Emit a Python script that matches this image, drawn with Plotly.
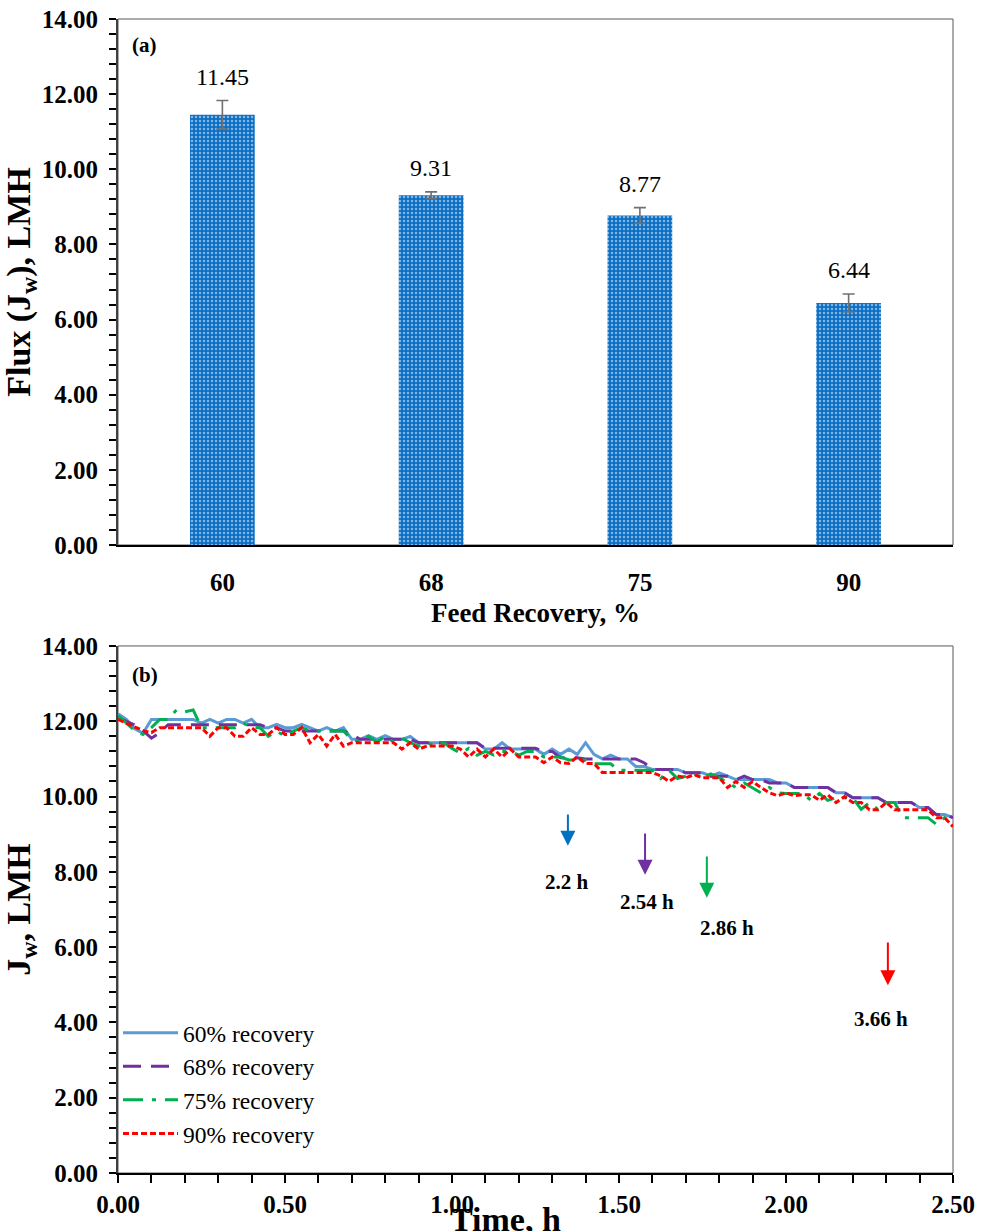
import plotly.graph_objects as go

# ---------------- data: panel (a) ----------------
recovery = ["60", "68", "75", "90"]
flux_mean = [11.45, 9.31, 8.77, 6.44]
flux_err = [0.38, 0.09, 0.21, 0.24]

# ---------------- data: panel (b) ----------------
time_h = [round(0.025 * i, 3) for i in range(101)]

jw_60 = [12.20, 12.05, 11.80, 11.68, 12.05, 12.05, 12.05, 12.05, 12.05, 12.05,
         11.95, 12.05, 11.95, 12.05, 12.05, 11.95, 12.05, 11.83, 11.83, 11.92,
         11.83, 11.83, 11.92, 11.83, 11.74, 11.83, 11.74, 11.83, 11.52, 11.52,
         11.62, 11.52, 11.62, 11.52, 11.52, 11.60, 11.43, 11.43, 11.43, 11.43,
         11.43, 11.43, 11.43, 11.43, 11.26, 11.26, 11.43, 11.26, 11.26, 11.26,
         11.26, 11.12, 11.26, 11.12, 11.26, 11.12, 11.43, 11.12, 11.00, 11.10,
         11.00, 11.00, 10.80, 10.80, 10.72, 10.72, 10.72, 10.72, 10.63, 10.63,
         10.63, 10.54, 10.63, 10.54, 10.45, 10.45, 10.45, 10.45, 10.45, 10.36,
         10.36, 10.24, 10.24, 10.24, 10.24, 10.24, 10.10, 10.10, 9.97, 9.97,
         9.97, 9.97, 9.84, 9.84, 9.84, 9.84, 9.71, 9.71, 9.52, 9.52,
         9.44]

jw_68 = [12.10, 12.00, 11.90, 11.75, 11.55, 11.70, 11.91, 11.91, 11.91, 11.91,
         11.91, 11.91, 11.91, 11.91, 11.91, 11.91, 11.91, 11.91, 11.83, 11.83,
         11.74, 11.74, 11.74, 11.74, 11.74, 11.74, 11.74, 11.74, 11.65, 11.52,
         11.52, 11.52, 11.52, 11.52, 11.52, 11.52, 11.43, 11.43, 11.43, 11.43,
         11.43, 11.43, 11.43, 11.43, 11.28, 11.28, 11.28, 11.28, 11.28, 11.28,
         11.28, 11.20, 11.20, 11.03, 11.03, 11.03, 11.00, 11.00, 11.00, 11.00,
         11.00, 11.00, 11.00, 10.90, 10.72, 10.72, 10.72, 10.72, 10.63, 10.63,
         10.63, 10.54, 10.54, 10.54, 10.45, 10.54, 10.45, 10.45, 10.36, 10.36,
         10.36, 10.24, 10.24, 10.24, 10.24, 10.24, 10.10, 10.10, 9.97, 9.97,
         9.97, 9.97, 9.84, 9.84, 9.84, 9.84, 9.71, 9.71, 9.52, 9.52,
         9.44]

jw_75 = [12.15, 11.95, 11.75, 11.65, 11.83, 12.05, 12.05, 12.30, 12.25, 12.30,
         11.83, 11.83, 11.83, 11.83, 11.83, 11.95, 11.83, 11.83, 11.60, 11.74,
         11.60, 11.74, 11.83, 11.74, 11.74, 11.74, 11.74, 11.74, 11.52, 11.45,
         11.60, 11.45, 11.60, 11.45, 11.55, 11.43, 11.34, 11.43, 11.34, 11.43,
         11.28, 11.15, 11.28, 11.10, 11.20, 11.10, 11.20, 11.20, 11.10, 11.20,
         11.20, 11.05, 11.05, 11.05, 10.97, 10.97, 10.97, 10.87, 10.87, 10.87,
         10.70, 10.70, 10.70, 10.70, 10.70, 10.48, 10.70, 10.48, 10.55, 10.60,
         10.50, 10.60, 10.50, 10.36, 10.24, 10.36, 10.24, 10.10, 10.24, 10.10,
         10.08, 10.08, 10.08, 9.90, 10.08, 9.90, 9.97, 9.97, 9.97, 9.66,
         9.84, 9.66, 9.84, 9.84, 9.44, 9.44, 9.44, 9.44, 9.26, 9.44,
         9.30]

jw_90 = [12.05, 11.95, 11.85, 11.75, 11.70, 11.83, 11.83, 11.83, 11.83, 11.83,
         11.83, 11.60, 11.83, 11.83, 11.60, 11.60, 11.83, 11.65, 11.65, 11.83,
         11.65, 11.65, 11.83, 11.43, 11.65, 11.34, 11.65, 11.34, 11.43, 11.43,
         11.43, 11.43, 11.43, 11.43, 11.26, 11.43, 11.26, 11.34, 11.34, 11.34,
         11.34, 11.26, 11.05, 11.26, 11.05, 11.26, 11.05, 11.26, 11.05, 11.05,
         11.05, 10.90, 11.05, 10.90, 10.88, 11.05, 10.88, 10.88, 10.64, 10.64,
         10.64, 10.64, 10.64, 10.64, 10.64, 10.55, 10.40, 10.55, 10.50, 10.58,
         10.50, 10.50, 10.50, 10.24, 10.40, 10.24, 10.40, 10.24, 10.10, 10.02,
         10.10, 10.02, 10.05, 10.05, 9.90, 10.05, 9.84, 10.00, 9.84, 9.84,
         9.65, 9.65, 9.84, 9.65, 9.65, 9.65, 9.65, 9.65, 9.44, 9.44,
         9.20]

series_names = ["60% recovery", "68% recovery", "75% recovery", "90% recovery"]
series_values = [jw_60, jw_68, jw_75, jw_90]
series_colors = ["#5B9BD5", "#7030A0", "#00B050", "#FF0000"]
series_dash = ["solid", "18px,10px", "20px,9px,4px,9px", "6px,3px"]

# time-to-target annotations
marker_times = ["2.2 h", "2.54 h", "2.86 h", "3.66 h"]
marker_colors = ["#0070C0", "#7030A0", "#00B050", "#FF0000"]
arrow_x = [1.347, 1.578, 1.763, 2.305]
arrow_tail_y = [9.56, 9.06, 8.45, 6.16]
arrow_head_y = [8.69, 7.92, 7.31, 4.99]
label_x = [1.344, 1.585, 1.823, 2.283]
label_y = [7.74, 7.21, 6.50, 4.09]

FONT = "Times New Roman, Liberation Serif, serif"

fig = go.Figure()

# ---- panel (a) bars ----
cat_idx = list(range(len(recovery)))
fig.add_trace(go.Bar(
    x=cat_idx, y=flux_mean,
    marker=dict(color="#0A6EC4", line=dict(width=0),
                pattern=dict(shape=".", fgcolor="white", size=4, solidity=0.3)),
    error_y=dict(type="data", array=flux_err, color="#707070", thickness=1.6, width=6),
    xaxis="x", yaxis="y", showlegend=False, hoverinfo="skip",
))

for xc, v, e in zip(cat_idx, flux_mean, flux_err):
    fig.add_annotation(x=xc, y=v + e, xref="x", yref="y", text=f"{v:.2f}",
                       showarrow=False, yanchor="bottom", xanchor="center", yshift=9,
                       font=dict(family=FONT, size=24, color="black"))

# ---- panel (b) lines ----
for name, vals, col, dash in zip(series_names, series_values, series_colors, series_dash):
    fig.add_trace(go.Scatter(
        x=time_h, y=vals, mode="lines", name=name,
        line=dict(color=col, width=3, dash=dash),
        xaxis="x2", yaxis="y2", hoverinfo="skip",
    ))

for xa, yt, yh, col in zip(arrow_x, arrow_tail_y, arrow_head_y, marker_colors):
    fig.add_annotation(x=xa, y=yh, ax=xa, ay=yt, xref="x2", yref="y2",
                       axref="x2", ayref="y2", text="", showarrow=True,
                       arrowhead=2, arrowsize=1.5, arrowwidth=2, arrowcolor=col)

for txt, lx, ly in zip(marker_times, label_x, label_y):
    fig.add_annotation(x=lx, y=ly, xref="x2", yref="y2", text=f"<b>{txt}</b>",
                       showarrow=False, font=dict(family=FONT, size=21, color="black"))

# panel letters
fig.add_annotation(x=0.032, y=0.95, xref="x domain", yref="y domain", text="<b>(a)</b>",
                   xanchor="center", yanchor="middle",
                   showarrow=False, font=dict(family=FONT, size=21, color="black"))
fig.add_annotation(x=0.032, y=0.945, xref="x2 domain", yref="y2 domain", text="<b>(b)</b>",
                   xanchor="center", yanchor="middle",
                   showarrow=False, font=dict(family=FONT, size=21, color="black"))

# x title of panel (b), slightly left of centre as in the original
fig.add_annotation(x=0.4635, y=-0.0405, xref="paper", yref="paper", text="<b>Time, h</b>",
                   xanchor="center", yanchor="middle", showarrow=False,
                   font=dict(family=FONT, size=34, color="black"))

# plot-area frames (light top/right border)
for xd, yd in (("x", "y"), ("x2", "y2")):
    fig.add_shape(type="rect", xref=f"{xd} domain", yref=f"{yd} domain",
                  x0=0, x1=1, y0=0, y1=1, line=dict(color="#595959", width=1), layer="below")

tick_font = dict(family=FONT, size=25, color="black", weight="bold")

yax_common = dict(range=[0, 14], dtick=2, tickformat=".2f", ticks="outside", ticklen=7,
                  tickwidth=2, tickcolor="black", showline=True, linecolor="#404040",
                  linewidth=2, showgrid=False, zeroline=False, tickfont=tick_font,
                  minor=dict(dtick=0.4, ticks="outside", ticklen=7, tickwidth=2, tickcolor="black"),
                  ticklabelstandoff=6, automargin=False)

fig.update_layout(
    width=986, height=1231,
    margin=dict(l=118, r=33, t=19, b=58, autoexpand=False),
    paper_bgcolor="white", plot_bgcolor="white",
    font=dict(family=FONT, color="black"),
    bargap=0.69,
    xaxis=dict(domain=[0, 1], anchor="y", tickmode="array", tickvals=cat_idx,
               ticktext=recovery, range=[-0.5, len(recovery) - 0.5],
               showline=True, linecolor="black", zeroline=False, automargin=False,
               linewidth=2, ticks="", showgrid=False, tickfont=tick_font, ticklabelstandoff=14,
               title=dict(text="Feed Recovery, %", standoff=8,
                          font=dict(family=FONT, size=27, color="black", weight="bold"))),
    yaxis=dict(domain=[0.5442, 1], anchor="x",
               title=dict(text="Flux (J<sub>w</sub>), LMH", standoff=2,
                          font=dict(family=FONT, size=34, color="black", weight="bold")),
               **yax_common),
    xaxis2=dict(domain=[0, 1], anchor="y2", range=[0, 2.5], dtick=0.5, tickformat=".2f",
                showline=True, linecolor="black", linewidth=2, ticks="outside", ticklen=8,
                tickwidth=2, tickcolor="black", showgrid=False, zeroline=False,
                tickfont=tick_font, automargin=False,
                minor=dict(dtick=0.1, ticks="outside", ticklen=8, tickwidth=2, tickcolor="black")),
    yaxis2=dict(domain=[0, 0.4567], anchor="x2",
                title=dict(text="J<sub>w</sub>, LMH", standoff=2,
                           font=dict(family=FONT, size=34, color="black", weight="bold")),
                **yax_common),
    legend=dict(x=0.0, y=0.1404, xanchor="left", yanchor="top", bgcolor="rgba(0,0,0,0)",
                font=dict(family=FONT, size=23.5, color="black"), itemwidth=55,
                tracegroupgap=0),
)

fig.write_html("out.html")
